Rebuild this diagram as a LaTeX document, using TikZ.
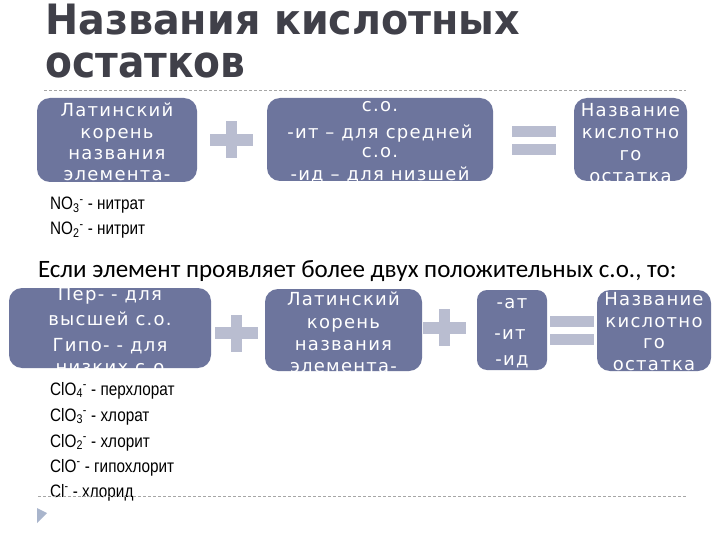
\documentclass[tikz,border=0pt]{standalone}
\usepackage{fontspec}
\setmainfont{DejaVu Sans}
\newfontfamily\titlefont{DejaVu Sans}
\newfontfamily\boxfont{DejaVu Sans}[LetterSpace=7]
\newfontfamily\listfont{Liberation Sans}
\newfontfamily\notefont{Carlito}
\definecolor{boxblue}{HTML}{6D759D}
\definecolor{signgray}{HTML}{B9BDD0}
\definecolor{titlegray}{HTML}{404049}
\definecolor{dashgray}{HTML}{A6A6A6}
\definecolor{markblue}{HTML}{A9B5CC}
\tikzset{
  boxshape/.style={fill=boxblue, rounded corners=13pt, inner sep=0pt, draw=none},
  btext/.style={anchor=base, text=white, font=\boxfont\fontsize{18}{20}\selectfont, inner sep=0pt},
  ltext/.style={anchor=base west, font=\listfont\fontsize{18}{20}\selectfont, inner sep=0pt},
  ttext/.style={anchor=base west, text=titlegray, font=\titlefont\bfseries\fontsize{44}{48}\selectfont, inner sep=0pt},
  sign/.style={fill=signgray},
  rulerline/.style={draw=dashgray, dash pattern=on 3pt off 2pt, line width=0.8pt},
}
\newcommand\plussign[2]{%
  \fill[sign] ({#1-21.5},{#2-6}) rectangle ({#1+21.5},{#2+6});
  \fill[sign] ({#1-5.5},{#2-18.5}) rectangle ({#1+5.5},{#2+18.5});}
\newcommand\equalsign[3]{% x, top bar top, bottom bar top
  \fill[sign] ({#1-22},{#2}) rectangle ({#1+22},{#2+11});
  \fill[sign] ({#1-22},{#3}) rectangle ({#1+22},{#3+11});}
\newcommand\chem[1]{\scalebox{0.85}[1]{#1}}
\begin{document}
\begin{tikzpicture}[x=1pt,y=-1pt]
\useasboundingbox[fill=white] (0,0) rectangle (720,540);

% title
\node[ttext] (t1) at (45,35) {\scalebox{0.9}[0.95]{Названия кислотных}};
\node[ttext] (t2) at (45,78) {\scalebox{0.89}[1]{остатков}};
\coordinate (d1a) at (44,90); \coordinate (d1b) at (686,90);
\draw[rulerline] (d1a) -- (d1b);

% row 1
\node[boxshape, minimum width=160pt, minimum height=84pt] (r1a) at (117,140) {};
\begin{scope}
  \clip[rounded corners=13pt] (r1a.south west) rectangle (r1a.north east);
  \node[btext] (r1a1) at (117,117) {Латинский};
  \node[btext] (r1a2) at (117,139) {корень};
  \node[btext] (r1a3) at (117,160) {названия};
  \node[btext] (r1a4) at (117,181) {элемента-};
\end{scope}
\plussign{231.5}{140}
\node[boxshape, minimum width=226pt, minimum height=83pt] (r1b) at (380,139.5) {};
\begin{scope}
  \clip[rounded corners=13pt] (r1b.south west) rectangle (r1b.north east);
  \node[btext] (r1b1) at (380,112) {с.о.};
  \node[btext] (r1b2) at (380,139) {-ит – для средней};
  \node[btext] (r1b3) at (380,158) {с.о.};
  \node[btext] (r1b4) at (380,181) {-ид – для низшей};
\end{scope}
\equalsign{534}{126}{144}
\node[boxshape, minimum width=113pt, minimum height=83pt] (r1c) at (630.5,139.5) {};
\begin{scope}
  \clip[rounded corners=13pt] (r1c.south west) rectangle (r1c.north east);
  \node[btext] (r1c1) at (630.5,117) {Название};
  \node[btext] (r1c2) at (630.5,139) {кислотно};
  \node[btext] (r1c3) at (630.5,161) {го};
  \node[btext] (r1c4) at (630.5,183) {остатка};
\end{scope}

% examples 1
\node[ltext] (n3) at (50,210) {\chem{NO\textsubscript{3}\textsuperscript{-} - нитрат}};
\node[ltext] (n2) at (50,235) {\chem{NO\textsubscript{2}\textsuperscript{-} - нитрит}};

% note
\node[anchor=base west, inner sep=0pt, font=\notefont\fontsize{25}{28}\selectfont] (note) at (38,277)
  {Если элемент проявляет более двух положительных с.о., то:};

% row 2
\node[boxshape, minimum width=202pt, minimum height=80pt] (r2a) at (110,328) {};
\begin{scope}
  \clip[rounded corners=13pt] (r2a.south west) rectangle (r2a.north east);
  \node[btext] (r2a1) at (110,300) {Пер- - для};
  \node[btext] (r2a2) at (110,325) {высшей с.о.};
  \node[btext] (r2a3) at (110,351) {Гипо- - для};
  \node[btext] (r2a4) at (110,373) {низких с.о};
\end{scope}
\plussign{236.5}{333}
\node[boxshape, minimum width=157pt, minimum height=82pt] (r2b) at (343.5,330) {};
\begin{scope}
  \clip[rounded corners=13pt] (r2b.south west) rectangle (r2b.north east);
  \node[btext] (r2b1) at (343.5,305) {Латинский};
  \node[btext] (r2b2) at (343.5,328) {корень};
  \node[btext] (r2b3) at (343.5,350) {названия};
  \node[btext] (r2b4) at (343.5,372) {элемента-};
\end{scope}
\plussign{444.5}{327.5}
\node[boxshape, rounded corners=10pt, minimum width=70pt, minimum height=80pt] (r2c) at (512,330) {};
\begin{scope}
  \clip[rounded corners=10pt] (r2c.south west) rectangle (r2c.north east);
  \node[btext] (r2c1) at (512,308) {-ат};
  \node[btext] (r2c2) at (510,339) {-ит};
  \node[btext] (r2c3) at (512,365) {-ид};
\end{scope}
\equalsign{572}{316}{334}
\node[boxshape, minimum width=114pt, minimum height=81pt] (r2d) at (654,330.5) {};
\begin{scope}
  \clip[rounded corners=13pt] (r2d.south west) rectangle (r2d.north east);
  \node[btext] (r2d1) at (654,305) {Название};
  \node[btext] (r2d2) at (654,327) {кислотно};
  \node[btext] (r2d3) at (654,348) {го};
  \node[btext] (r2d4) at (654,370) {остатка};
\end{scope}

% examples 2
\node[ltext] (c4) at (50,395) {\chem{ClO\textsubscript{4}\textsuperscript{-} - перхлорат}};
\node[ltext] (c3) at (50,421) {\chem{ClO\textsubscript{3}\textsuperscript{-} - хлорат}};
\node[ltext] (c2) at (50,447) {\chem{ClO\textsubscript{2}\textsuperscript{-} - хлорит}};
\node[ltext] (c1) at (50,472) {\chem{ClO\textsuperscript{-} - гипохлорит}};
\node[ltext] (c0) at (50,497) {\chem{Cl\textsuperscript{-} - хлорид}};

\coordinate (d2a) at (38,496); \coordinate (d2b) at (686,496);
\draw[rulerline] (d2a) -- (d2b);
\fill[markblue] (37,508) -- (47,513) -- (37,523) -- cycle;
\end{tikzpicture}
\end{document}
